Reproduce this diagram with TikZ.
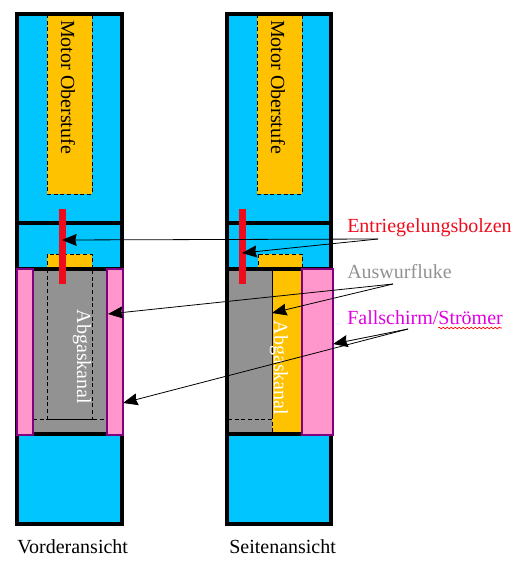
\documentclass[tikz,border=0pt]{standalone}
\usepackage{fontspec}
\setmainfont{Liberation Serif}
\usetikzlibrary{arrows.meta, decorations.pathmorphing}
\definecolor{Rumpfblau}{RGB}{0,197,255}
\definecolor{Motorgelb}{RGB}{255,194,0}
\definecolor{Schirmrosa}{RGB}{255,150,204}
\definecolor{Kanalgrau}{RGB}{146,146,146}
\definecolor{Schirmrand}{RGB}{128,0,128}
\definecolor{Bolzenrot}{RGB}{238,12,28}
\definecolor{Schirmtext}{RGB}{225,0,225}

\begin{document}
\begin{tikzpicture}[
  x=.75pt, y=-.75pt,
  hull/.style={line width=3pt, draw=black},
  rumpf/.style={fill=Rumpfblau},
  motor/.style={fill=Motorgelb, draw=black, densely dashed, line width=.6pt},
  schirm/.style={fill=Schirmrosa, draw=Schirmrand, line width=.8pt},
  kanal/.style={fill=Kanalgrau},
  bolzen/.style={fill=Bolzenrot},
  strich/.style={draw=black, densely dashed, line width=.6pt},
  txt/.style={font=\fontsize{15}{17}\selectfont, inner sep=0pt},
  rottxt/.style={txt, rotate=-90, anchor=center},
  lbl/.style={txt, anchor=base west},
  arr/.style={-{Stealth[length=11pt, width=9pt, inset=1pt]}, line width=.6pt, draw=black}
]
\useasboundingbox (0,0) rectangle (521,563);

%% Vorderansicht
\fill[rumpf] (17,14) rectangle (122,524);
\path[motor] (47,14) rectangle (92,194);
\path[motor] (47,254) rectangle (92,269);
\fill[kanal] (33,269) rectangle (107,433);
\draw[strich] (47,269) -- (47,419) -- (92,419) -- (92,269);
\draw[strich] (33,419) -- (107,419);
\draw[hull] (17,14) rectangle (122,524);
\draw[hull] (17,223) -- (122,223);
\draw[hull] (17,269) -- (122,269);
\draw[hull] (17,434) -- (122,434);
\draw[schirm] (17,269) rectangle (33,435);
\draw[schirm] (107,269) rectangle (123,435);
\fill[bolzen] (59,209) rectangle (66,284);
\node[rottxt] (motorv) at (68,87) {Motor Oberstufe};
\node[rottxt, text=white] (kanalv) at (82,357) {Abgaskanal};

%% Seitenansicht
\fill[rumpf] (227,14) rectangle (331,524);
\path[motor] (257,14) rectangle (302,194);
\path[motor] (258,254) rectangle (302,269);
\fill[kanal] (228,269) rectangle (272,433);
\fill[Motorgelb] (272,269) rectangle (302,433);
\draw[black, line width=.6pt] (272,269) -- (272,419);
\draw[strich] (228,419) -- (272,419) -- (272,433);
\draw[hull] (227,14) rectangle (331,524);
\draw[hull] (227,223) -- (331,223);
\draw[hull] (227,269) -- (331,269);
\draw[hull] (227,434) -- (331,434);
\draw[schirm] (302,269) rectangle (333,435);
\fill[bolzen] (239,209) rectangle (246,284);
\node[rottxt] (motors) at (278,87) {Motor Oberstufe};
\node[rottxt, text=white] (kanals) at (279,368) {Abgaskanal};

%% Beschriftung
\node[lbl, text=Bolzenrot] (entr) at (347,232) {Entriegelungsbolzen};
\node[lbl, text=Kanalgrau] (ausw) at (347,278) {Auswurfluke};
\node[lbl, text=Schirmtext] (fall) at (347,324) {Fallschirm/Strömer};
\node[lbl] (vorn) at (17,553) {Vorderansicht};
\node[lbl] (seite) at (229,553) {Seitenansicht};
\draw[red, line width=.5pt, decorate, decoration={snake, amplitude=.6pt, segment length=3pt}]
  (438,328) -- (502,328);

%% Pfeile
\coordinate (entrp) at (378,239);
\coordinate (auswp) at (393,284);
\coordinate (fallp) at (408,329);
\coordinate (bolzv) at (62,240);
\coordinate (bolzs) at (242,253);
\coordinate (lukev) at (108,314);
\coordinate (lukes) at (272,313);
\coordinate (schirmv) at (123,403);
\coordinate (schirms) at (333,344);
\draw[arr] (entrp) -- (bolzv);
\draw[arr] (entrp) -- (bolzs);
\draw[arr] (auswp) -- (lukev);
\draw[arr] (auswp) -- (lukes);
\draw[arr] (fallp) -- (schirmv);
\draw[arr] (fallp) -- (schirms);

\end{tikzpicture}
\end{document}
